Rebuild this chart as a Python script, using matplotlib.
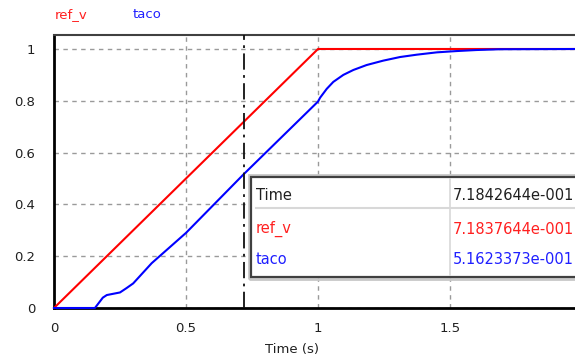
import matplotlib
matplotlib.use("Agg")
import matplotlib.pyplot as plt
from matplotlib.patches import Rectangle
from matplotlib.lines import Line2D

plt.rcParams['font.family'] = ['DejaVu Sans']

# --- data -------------------------------------------------------------
ref_t = [0.0, 1.0, 2.0]
ref_v = [0.0, 1.0, 1.0]

taco_t = [0.0, 0.155, 0.17, 0.185, 0.2, 0.225, 0.25, 0.275, 0.3, 0.37,
          0.5, 0.718, 1.0, 1.008, 1.033, 1.058, 1.096, 1.134, 1.184, 1.247,
          1.311, 1.374, 1.45, 1.525, 1.6, 1.69, 2.0]
taco_v = [0.0, 0.0, 0.02, 0.04, 0.05, 0.055, 0.06, 0.077, 0.095, 0.173,
          0.29, 0.516, 0.797, 0.812, 0.846, 0.873, 0.900, 0.919, 0.938, 0.955,
          0.969, 0.978, 0.987, 0.992, 0.996, 0.999, 1.0]

cursor_time = 7.1842644e-001
cursor_ref = 7.1837644e-001
cursor_taco = 5.1623373e-001

x_ticks = [0, 0.5, 1, 1.5, 2]
x_labels = ["0", "0.5", "1", "1.5", "2"]
y_ticks = [0, 0.2, 0.4, 0.6, 0.8, 1.0]
y_labels = ["0", "0.2", "0.4", "0.6", "0.8", "1"]

RED = "#ff0000"
BLUE = "#0000ff"

W, H = 575, 358
fig = plt.figure(figsize=(W / 100, H / 100), dpi=100)


def fx(px):
    return px / W


def fy(py):
    return 1 - py / H


# plot area (extends slightly past the right edge of the canvas)
left, right, top, bottom = 54, 582, 35, 308
ax = fig.add_axes([fx(left), fy(bottom), fx(right - left), (bottom - top) / H])
ax.set_xlim(0, 2)
ax.set_ylim(0, 1.054)

ax.plot(ref_t, ref_v, color=RED, lw=1.5, zorder=3, clip_on=False)
ax.plot(taco_t, taco_v, color=BLUE, lw=1.5, zorder=4, clip_on=False)

# grid
grid_kw = dict(color="#9a9a9a", lw=1.0, ls=(0, (3.2, 3.2)), zorder=1)
for xv in x_ticks[1:-1]:
    ax.axvline(xv, **grid_kw)
for yv in y_ticks:
    ax.axhline(yv, **grid_kw)

# cursor
ax.axvline(cursor_time, color="#101010", lw=1.3, ls=(0, (9, 3, 1.5, 3)), zorder=5)

ax.set_xticks(x_ticks)
ax.set_xticklabels(x_labels)
ax.set_yticks(y_ticks)
ax.set_yticklabels(y_labels)
ax.tick_params(axis="both", length=0, labelsize=9.5, colors="#202020")
ax.tick_params(axis="y", pad=13.5)
ax.tick_params(axis="x", pad=10)

ax.spines["right"].set_visible(False)
ax.spines["left"].set_color("black")
ax.spines["left"].set_linewidth(2)
ax.spines["bottom"].set_color("black")
ax.spines["bottom"].set_linewidth(2)
ax.spines["top"].set_color("#404040")
ax.spines["top"].set_linewidth(1.5)

fig.text(fx(292), fy(349), "Time (s)", ha="center", va="center",
         fontsize=9.5, color="#202020")

# signal names above the plot
fig.text(fx(55), fy(15), "ref_v", color="#ff2020", fontsize=9.5, va="center")
fig.text(fx(133), fy(15), "taco", color="#2020ff", fontsize=9.5, va="center")

# cursor readout box
bx0, by0, bx1, by1 = 251, 177, 600, 277
fig.patches.append(Rectangle((fx(bx0 - 2), fy(by1 + 2)), fx(bx1 - bx0 + 4),
                             (by1 - by0 + 4) / H, transform=fig.transFigure,
                             facecolor="none", edgecolor="#c8c8c8", lw=2.0, zorder=9))
fig.patches.append(Rectangle((fx(bx0), fy(by1)), fx(bx1 - bx0),
                             (by1 - by0) / H, transform=fig.transFigure,
                             facecolor="white", edgecolor="#404040", lw=1.6, zorder=10))
fig.lines.append(Line2D([fx(256), fx(600)], [fy(208), fy(208)],
                        transform=fig.transFigure, color="#d8d8d8", lw=1.5, zorder=11))
fig.lines.append(Line2D([fx(450), fx(450)], [fy(by0 + 2), fy(by1 - 2)],
                        transform=fig.transFigure, color="#d8d8d8", lw=1.2, zorder=11))

rows = [("Time", cursor_time, "#202020", 196),
        ("ref_v", cursor_ref, "#ff2020", 229),
        ("taco", cursor_taco, "#2020ff", 259)]
for name, val, col, ypx in rows:
    fig.text(fx(256), fy(ypx), name, color=col, fontsize=10.5, va="center", zorder=12)
    fig.text(fx(453), fy(ypx), "%.7fe-001" % (val * 10), color=col, fontsize=10.5,
             va="center", zorder=12)

fig.savefig("out.png", dpi=100)
